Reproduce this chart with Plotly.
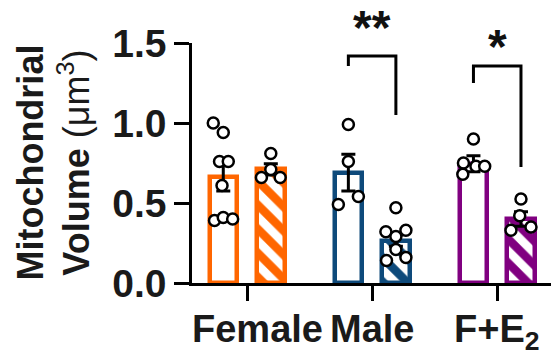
import plotly.graph_objects as go

# ---- data ----
groups = ["Female", "Male", "F+E<sub>2</sub>"]
colors = ["#FF6600", "#0E4A7B", "#800080"]
bar_means = [0.66, 0.71, 0.69, 0.265, 0.745, 0.40]   # [solid, hatched] per group
bar_sem = [0.085, 0.035, 0.115, 0.035, 0.05, 0.045]
points = [
    [1.00, 0.94, 0.76, 0.76, 0.61, 0.39, 0.41, 0.40],
    [0.81, 0.66, 0.71, 0.66],
    [0.99, 0.76, 0.49, 0.54],
    [0.47, 0.32, 0.33, 0.29, 0.14, 0.16, 0.21],
    [0.90, 0.75, 0.73, 0.73, 0.68],
    [0.525, 0.42, 0.33, 0.35],
]
jitter = [
    [-0.08, 0, -0.03, 0.04, -0.01, -0.07, 0, 0.075],
    [0, -0.075, 0, 0.075],
    [0, 0, -0.08, 0.08],
    [0, -0.08, 0.08, 0, -0.075, 0.08, 0],
    [0, -0.08, 0.02, 0.09, -0.085],
    [0, -0.01, -0.08, 0.08],
]
sig_labels = ["**", "*"]
sig_groups = [1, 2]
sig_top = [1.419, 1.356]
sig_left_bottom = [1.356, 1.25]
sig_right_bottom = [1.05, 0.725]
sig_text_y = [1.595, 1.475]

Y_MAX = 1.5

# ---- layout helpers ----
OFF = 0.19
BW = 0.22
xs = []
bar_colors = []
shapes_pat = []
for gi in range(len(groups)):
    for k in range(2):
        xs.append(gi + (-OFF if k == 0 else OFF))
        bar_colors.append(colors[gi])
        shapes_pat.append("" if k == 0 else "\\")

fig = go.Figure()
fig.add_trace(go.Bar(
    x=xs, y=bar_means, width=BW,
    marker=dict(color="white",
                line=dict(color=bar_colors, width=4.5),
                pattern=dict(shape=shapes_pat, fgcolor=bar_colors, bgcolor="white",
                             fillmode="overlay", fgopacity=1, size=17, solidity=0.5)),
    error_y=dict(type="data", array=bar_sem, visible=True, color="black",
                 thickness=3, width=7),
    showlegend=False,
))

for i, vals in enumerate(points):
    fig.add_trace(go.Scatter(
        x=[xs[i] + j for j in jitter[i]], y=vals, mode="markers",
        marker=dict(symbol="circle", size=11, color="white",
                    line=dict(color="black", width=2.5)),
        showlegend=False, cliponaxis=False,
    ))

shapes = []
annotations = []
for s in range(len(sig_labels)):
    g = sig_groups[s]
    x1 = g - OFF
    x2 = g + OFF
    shapes.append(dict(type="path", xref="x", yref="y",
                       path=f"M {x1},{sig_left_bottom[s]} L {x1},{sig_top[s]} L {x2},{sig_top[s]} L {x2},{sig_right_bottom[s]}",
                       line=dict(color="black", width=3)))
    annotations.append(dict(x=g, y=sig_text_y[s] / Y_MAX, xref="x", yref="paper", text=sig_labels[s],
                            showarrow=False, xanchor="center", yanchor="middle",
                            font=dict(size=48, color="#111", family="Liberation Sans", weight="bold")))

label_shift = [10, 0, 0]
for gi, g in enumerate(groups):
    annotations.append(dict(x=gi, y=-0.095, xref="x", yref="paper", text=g,
                            showarrow=False, xanchor="center", yanchor="top",
                            xshift=label_shift[gi],
                            font=dict(size=38, color="#1a1a1a", family="Liberation Sans", weight="bold")))

annotations.append(dict(x=-0.387, y=0.502, xref="paper", yref="paper",
                        text="Mitochondrial<br>Volume <span style='font-weight:normal'>(μm<sup>3</sup>)</span>",
                        textangle=-90, showarrow=False, xanchor="center", yanchor="middle",
                        font=dict(size=36, color="#1a1a1a", family="Liberation Sans", weight="bold")))

fig.update_layout(
    width=551, height=360,
    margin=dict(l=192, r=0, t=43, b=77),
    paper_bgcolor="white", plot_bgcolor="white",
    shapes=shapes, annotations=annotations,
    bargap=0,
)
fig.update_xaxes(range=[-0.44, 2.43], showline=True, linecolor="black", linewidth=2.5,
                 ticks="outside", ticklen=15, tickwidth=2.5, tickcolor="black",
                 tickvals=[0, 1, 2], showticklabels=False, showgrid=False, zeroline=False)
fig.update_yaxes(range=[0, Y_MAX], showline=True, linecolor="black", linewidth=2.5,
                 ticks="outside", ticklen=15, tickwidth=2.5, tickcolor="black",
                 tickvals=[0, 0.5, 1.0, 1.5], ticktext=["0.0", "0.5", "1.0", "1.5"],
                 tickfont=dict(size=39, color="#1a1a1a", family="Liberation Sans", weight="bold"),
                 showgrid=False, zeroline=False)

fig.write_html("out.html")
